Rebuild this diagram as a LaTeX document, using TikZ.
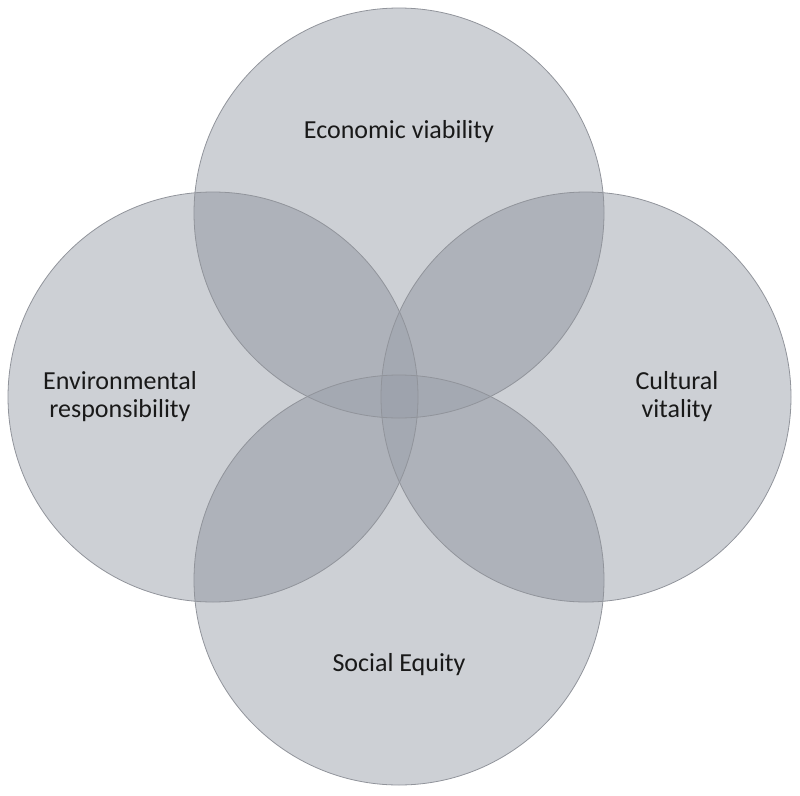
\documentclass[tikz,border=0pt]{standalone}
\usepackage{fontspec}
\setmainfont{Carlito}
\definecolor{cone}{RGB}{205,208,213}
\definecolor{ctwo}{RGB}{174,178,186}
\definecolor{cthree}{RGB}{164,169,178}
\definecolor{cfour}{RGB}{158,163,173}
\definecolor{cedge}{RGB}{145,148,155}
\definecolor{ctext}{RGB}{25,25,25}
\tikzset{
  lbl/.style={text=ctext, font=\fontsize{26}{28}\selectfont, align=center, inner sep=0pt},
  rim/.style={draw=cedge, line width=0.8pt},
}
\begin{document}
\begin{tikzpicture}[x=1pt,y=-1pt]
\def\rr{205}
\useasboundingbox (0,0) rectangle (800,795);
\coordinate (T) at (399,213);
\coordinate (B) at (399,580);
\coordinate (L) at (213,397);
\coordinate (R) at (586,397);
% single layer
\foreach \c in {T,B,L,R} \fill[cone] (\c) circle (\rr);
% double overlaps
\begin{scope}\clip (T) circle (\rr); \fill[ctwo] (L) circle (\rr); \fill[ctwo] (R) circle (\rr); \fill[ctwo] (B) circle (\rr); \end{scope}
\begin{scope}\clip (L) circle (\rr); \fill[ctwo] (R) circle (\rr); \fill[ctwo] (B) circle (\rr); \end{scope}
\begin{scope}\clip (R) circle (\rr); \fill[ctwo] (B) circle (\rr); \end{scope}
% triple overlaps
\begin{scope}\clip (T) circle (\rr); \clip (L) circle (\rr); \fill[cthree] (R) circle (\rr); \fill[cthree] (B) circle (\rr); \end{scope}
\begin{scope}\clip (B) circle (\rr); \clip (L) circle (\rr); \fill[cthree] (R) circle (\rr); \end{scope}
\begin{scope}\clip (T) circle (\rr); \clip (R) circle (\rr); \fill[cthree] (B) circle (\rr); \end{scope}
% quadruple overlap
\begin{scope}\clip (T) circle (\rr); \clip (L) circle (\rr); \clip (R) circle (\rr); \fill[cfour] (B) circle (\rr); \end{scope}
% outlines
\foreach \c in {T,B,L,R} \draw[rim] (\c) circle (\rr);
% labels
\node[lbl] (econ) at (399,132) {Economic viability};
\node[lbl] (env) at (120,397) {Environmental\\responsibility};
\node[lbl] (cult) at (677,397) {Cultural\\vitality};
\node[lbl] (soc) at (399,665) {Social Equity};
\end{tikzpicture}
\end{document}
